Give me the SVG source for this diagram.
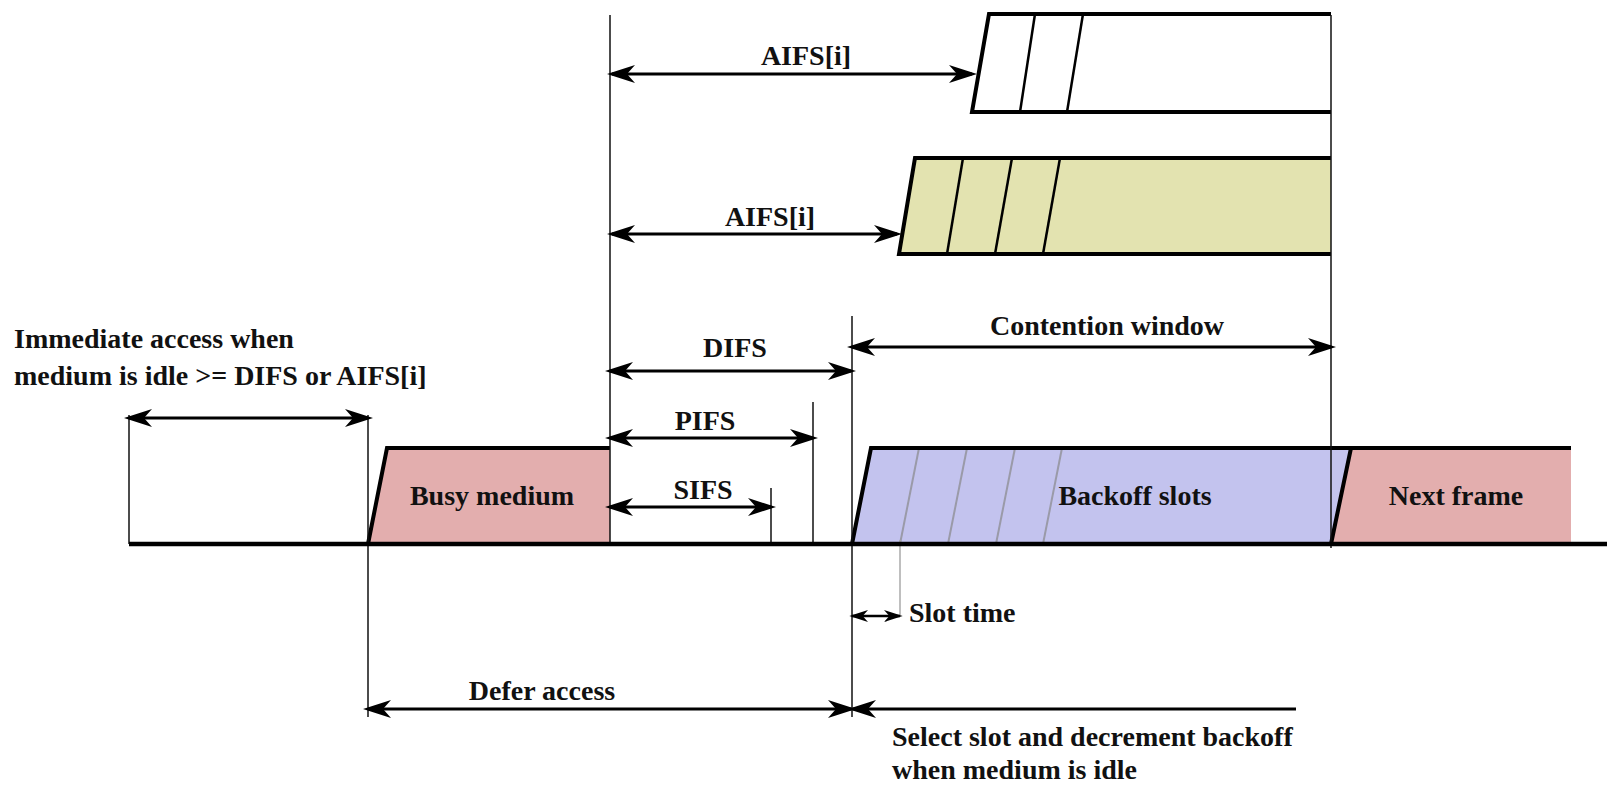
<svg xmlns="http://www.w3.org/2000/svg" width="1607" height="785" viewBox="0 0 1607 785">
  <defs>
    <style>
      .lbl { font-family: "Liberation Serif", "Times New Roman", serif; font-weight: bold; font-size: 28px; fill: #111; }
      .mid { text-anchor: middle; }
      .edge { fill: none; stroke: #000; stroke-width: 4; stroke-linejoin: miter; }
      .slot { fill: none; stroke: #000; stroke-width: 2.5; }
      .slot-grey { fill: none; stroke: #9a9aa8; stroke-width: 2; }
      .guide { fill: none; stroke: #111; stroke-width: 1.5; }
      .dim { fill: none; stroke: #000; stroke-width: 3; marker-start: url(#ah); marker-end: url(#ah); }
      .busy { fill: #e3aeae; }
      .backoff { fill: #c3c3ee; }
      .khaki { fill: #e3e3b0; }
    </style>
    <!-- barbed arrowhead; the tip runs a few pixels past the line end -->
    <marker id="ah" viewBox="0 0 28 18" refX="23" refY="9" markerWidth="28" markerHeight="18" markerUnits="userSpaceOnUse" orient="auto-start-reverse">
      <path d="M0,0 L28,9 L0,18 L8,9 z" fill="#000"/>
    </marker>
    <marker id="ahs" viewBox="0 0 28 18" refX="24" refY="9" markerWidth="19" markerHeight="12" markerUnits="userSpaceOnUse" orient="auto-start-reverse">
      <path d="M0,0 L28,9 L0,18 L8,9 z" fill="#000"/>
    </marker>
  </defs>

  <rect width="1607" height="785" fill="#fff"/>

  <!-- AIFS[i] frame, white -->
  <g id="aifs-frame-white">
    <polygon points="972,112 989,14 1331,14 1331,112" fill="#fff"/>
    <line class="slot" x1="1020" y1="112" x2="1035" y2="14"/>
    <line class="slot" x1="1067" y1="112" x2="1083" y2="14"/>
    <polyline class="edge" points="1331,112 972,112 989,14 1331,14"/>
  </g>

  <!-- AIFS[i] frame, khaki -->
  <g id="aifs-frame-khaki">
    <polygon class="khaki" points="899,254 915,158 1331,158 1331,254"/>
    <line class="slot" x1="947" y1="254" x2="963" y2="158"/>
    <line class="slot" x1="995" y1="254" x2="1012" y2="158"/>
    <line class="slot" x1="1043" y1="254" x2="1060" y2="158"/>
    <polyline class="edge" points="1331,254 899,254 915,158 1331,158"/>
  </g>

  <!-- Busy medium -->
  <g id="busy-medium">
    <polygon class="busy" points="368,544 387,448 610,448 610,544"/>
    <polyline class="edge" points="368,544 387,448 610,448"/>
    <text class="lbl mid" x="492" y="505">Busy medium</text>
  </g>

  <!-- Backoff slots -->
  <g id="backoff-slots">
    <polygon class="backoff" points="852,544 871,448 1351,448 1331,544"/>
    <line class="slot-grey" x1="900" y1="544" x2="919" y2="448"/>
    <line class="slot-grey" x1="948" y1="544" x2="967" y2="448"/>
    <line class="slot-grey" x1="996" y1="544" x2="1015" y2="448"/>
    <line class="slot-grey" x1="1043" y1="544" x2="1062" y2="448"/>
    <polyline class="edge" points="852,544 871,448 1351,448"/>
    <text class="lbl mid" x="1135" y="505">Backoff slots</text>
  </g>

  <!-- Next frame -->
  <g id="next-frame">
    <polygon class="busy" points="1331,544 1351,448 1571,448 1571,544"/>
    <polyline class="edge" points="1331,544 1351,448 1571,448"/>
    <text class="lbl mid" x="1456" y="505">Next frame</text>
  </g>

  <!-- Connectors: time marks, dimension arrows and the time axis -->
  <g id="connectors">
    <line class="guide" x1="129" y1="415" x2="129" y2="544"/>
    <line class="guide" x1="368" y1="415" x2="368" y2="717"/>
    <line class="guide" x1="610" y1="15" x2="610" y2="544"/>
    <line class="guide" x1="852" y1="316" x2="852" y2="717"/>
    <line class="guide" x1="1331" y1="15" x2="1331" y2="548"/>
    <line class="guide" x1="813" y1="402" x2="813" y2="544"/>
    <line class="guide" x1="771" y1="488" x2="771" y2="544"/>
    <line x1="900" y1="540" x2="900" y2="615" stroke="#aaa" stroke-width="1.5"/>

    <line x1="129" y1="544" x2="1607" y2="544" stroke="#000" stroke-width="4.5"/>

    <line class="dim" x1="612" y1="74" x2="972" y2="74"/>
    <line class="dim" x1="612" y1="234" x2="897" y2="234"/>
    <line class="dim" x1="129" y1="418" x2="368" y2="418"/>
    <line class="dim" x1="610" y1="371" x2="851" y2="371"/>
    <line class="dim" x1="852" y1="347" x2="1331" y2="347"/>
    <line class="dim" x1="610" y1="438" x2="813" y2="438"/>
    <line class="dim" x1="610" y1="507" x2="771" y2="507"/>
    <line x1="852" y1="616" x2="900" y2="616" fill="none" stroke="#000" stroke-width="2.5" marker-start="url(#ahs)" marker-end="url(#ahs)"/>
    <line class="dim" x1="368" y1="709" x2="851" y2="709"/>
    <line x1="853" y1="709" x2="1296" y2="709" fill="none" stroke="#000" stroke-width="3" marker-start="url(#ah)"/>
  </g>

  <!-- Labels -->
  <g id="labels">
    <text class="lbl mid" x="806" y="65">AIFS[i]</text>
    <text class="lbl mid" x="770" y="226">AIFS[i]</text>
    <text class="lbl" x="14" y="348">Immediate access when</text>
    <text class="lbl" x="14" y="385">medium is idle &gt;= DIFS or AIFS[i]</text>
    <text class="lbl mid" x="735" y="357">DIFS</text>
    <text class="lbl mid" x="1107" y="335">Contention window</text>
    <text class="lbl mid" x="705" y="430">PIFS</text>
    <text class="lbl mid" x="703" y="499">SIFS</text>
    <text class="lbl" x="909" y="622">Slot time</text>
    <text class="lbl mid" x="542" y="700">Defer access</text>
    <text class="lbl" x="892" y="746">Select slot and decrement backoff</text>
    <text class="lbl" x="892" y="779">when medium is idle</text>
  </g>
</svg>
